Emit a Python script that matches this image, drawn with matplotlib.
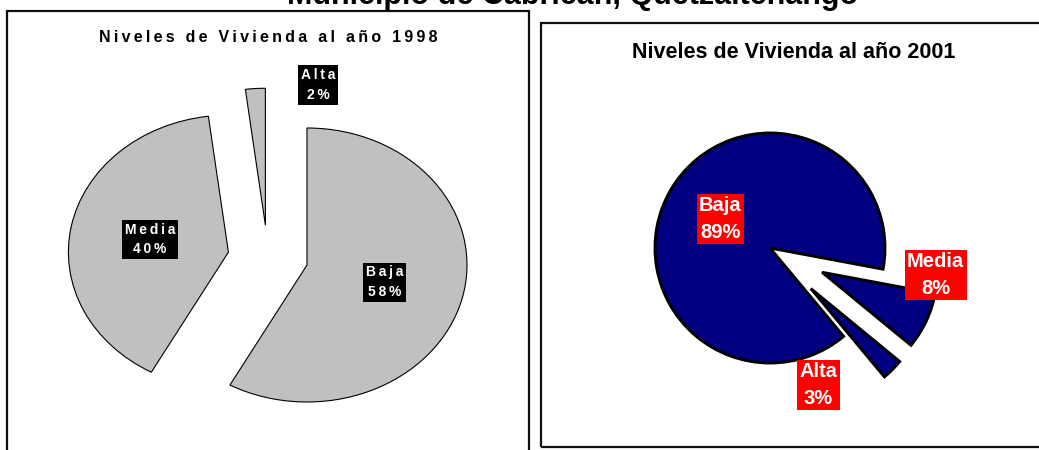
import matplotlib
matplotlib.use("Agg")
import matplotlib.pyplot as plt
from matplotlib.patches import Rectangle

plt.rcParams.update({
    "font.family": ["Liberation Sans", "DejaVu Sans"],
    "font.weight": "bold",
})

# data
niveles = ["Baja", "Media", "Alta"]
pct_1998 = [58, 40, 2]
niveles_2001 = ["Baja", "Media", "Alta"]
pct_2001 = [89, 8, 3]

titulo = "Municipio de Cabricán, Quetzaltenango"
titulo_1998 = "Niveles de Vivienda al año 1998"
titulo_2001 = "Niveles de Vivienda al año 2001"

W, H = 1039, 450
fig = plt.figure(figsize=(W / 100, H / 100), dpi=100)


def spaced(s):
    # fake letter spacing with thin spaces
    return "\u2009".join(s)


def px_axes(cx, cy, rx, ry, xlim, ylim):
    # axes placed so that 1 data unit = rx / ry pixels around centre (cx, cy)
    left = cx + xlim[0] * rx
    right = cx + xlim[1] * rx
    top = cy - ylim[1] * ry
    bottom = cy - ylim[0] * ry
    ax = fig.add_axes([left / W, 1 - bottom / H, (right - left) / W, (bottom - top) / H])
    return ax


# frames
fig.add_artist(Rectangle((7 / W, -0.05), 522 / W, 1.05 - 11 / H,
                         transform=fig.transFigure, fill=False, lw=1.6, ec="#111111"))
fig.add_artist(Rectangle((541 / W, 1 - 447 / H), 510 / W, (447 - 23) / H,
                         transform=fig.transFigure, fill=False, lw=1.6, ec="#111111"))

fig.text(573 / W, 1 - 4 / H, titulo, ha="center", va="baseline", fontsize=22)
fig.text(268 / W, 1 - 38 / H, spaced(titulo_1998), ha="center", va="center", fontsize=11.5)
fig.text(794 / W, 1 - 52 / H, titulo_2001, ha="center", va="center", fontsize=15.5)

# 1998 pie (elliptical)
xl1, yl1 = (-1.9, 1.3), (-1.2, 1.6)
ax1 = px_axes(307, 265, 160, 137, xl1, yl1)
labels1 = [spaced(n) + "\n" + spaced(f"{p}%") for n, p in zip(niveles, pct_1998)]
wedges1, texts1 = ax1.pie(
    pct_1998, startangle=90, counterclock=False,
    explode=[0, 0.5, 0], colors=["#C0C0C0"] * 3,
    wedgeprops=dict(edgecolor="black", linewidth=0.8),
    labels=labels1, labeldistance=0.5,
    textprops=dict(color="white", fontsize=10, ha="center", va="center",
                   linespacing=1.5),
)
wedges1[2].set_center((-0.26, 0.29))
texts1[2].set_position((0.069, 1.314))
for t in texts1:
    t.set_ha("center")
    t.set_bbox(dict(boxstyle="square,pad=0.2", fc="black", ec="none"))
ax1.set_aspect("auto")
ax1.set_xlim(xl1)
ax1.set_ylim(yl1)
ax1.axis("off")

# 2001 pie
xl2, yl2 = (-1.9, 2.3), (-1.6, 1.6)
ax2 = px_axes(770, 248, 115, 115, xl2, yl2)
labels2 = [f"{n}\n{p}%" for n, p in zip(niveles_2001, pct_2001)]
wedges2, texts2 = ax2.pie(
    pct_2001, startangle=309.8, counterclock=False,
    explode=[0, 0.5, 0.5], colors=["#000080"] * 3,
    wedgeprops=dict(edgecolor="black", linewidth=2.1),
    labels=labels2, labeldistance=0.5,
    textprops=dict(color="white", fontsize=14.5, ha="center", va="center",
                   linespacing=1.5),
)
texts2[1].set_position((1.44, -0.235))
texts2[2].set_position((0.42, -1.19))
for t in texts2:
    t.set_ha("center")
    t.set_bbox(dict(boxstyle="square,pad=0.12", fc="#FF0000", ec="none"))
ax2.set_aspect("auto")
ax2.set_xlim(xl2)
ax2.set_ylim(yl2)
ax2.axis("off")

fig.savefig("out.png", dpi=100)
